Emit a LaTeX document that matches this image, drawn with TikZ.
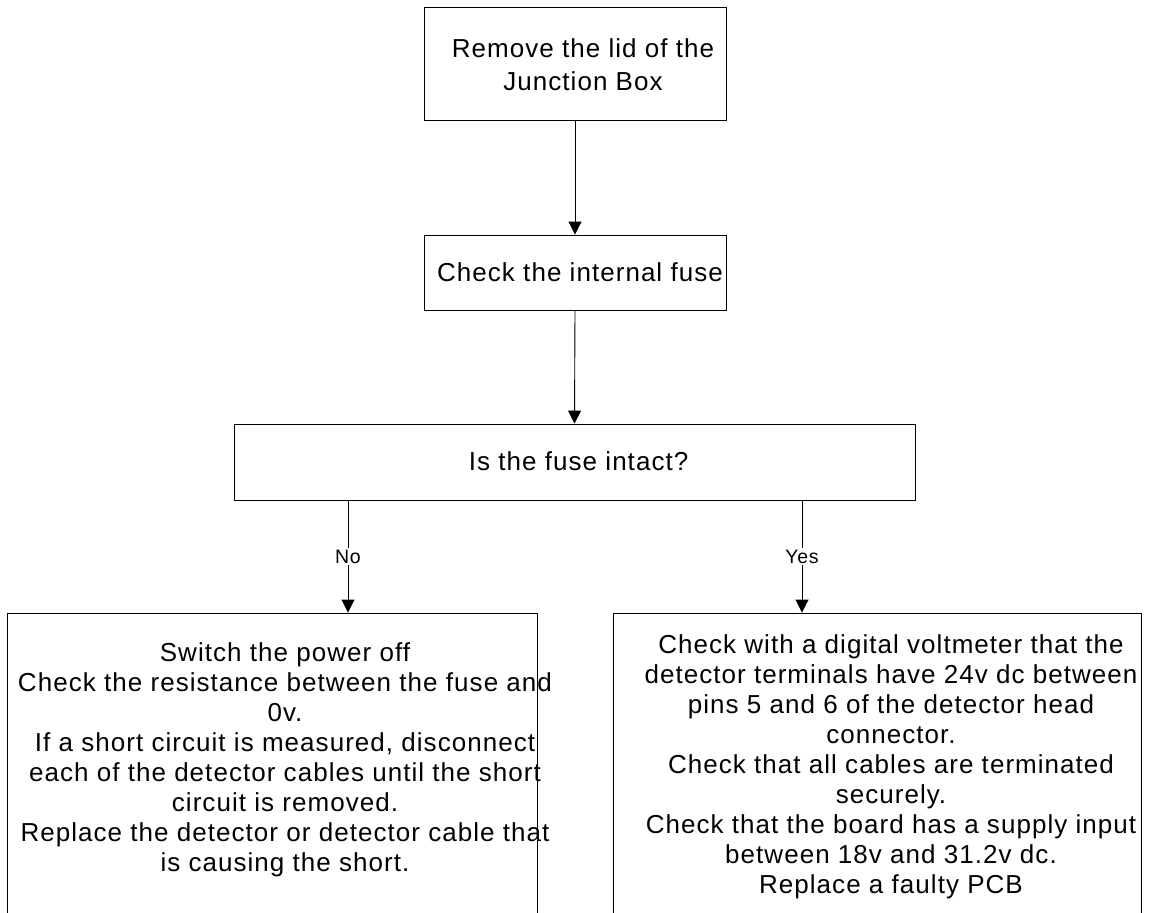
\documentclass[tikz,border=0pt]{standalone}
\usepackage{fontspec}
\setmainfont{Liberation Sans}[LetterSpace=4.0]
\usetikzlibrary{arrows.meta}
\tikzset{
  box/.style={draw, line width=0.9pt, rectangle, inner sep=0pt},
  txt/.style={align=center, inner sep=0pt, font=\fontsize{26}{30}\selectfont},
  arr/.style={draw, line width=0.9pt, -{Triangle[length=13pt,width=13pt]}},
  lbl/.style={fill=white, inner sep=2pt, font=\fontsize{19.5}{21}\selectfont}
}
\begin{document}
\begin{tikzpicture}[x=1pt,y=-1pt]
\clip (0,0) rectangle (1149,913);
\fill[white] (0,0) rectangle (1149,913);
% boxes
\node[box, minimum width=302pt, minimum height=113pt] (n1) at (575,63.5) {};
\node[box, minimum width=302pt, minimum height=75pt] (n2) at (575,272.5) {};
\node[box, minimum width=681pt, minimum height=76pt] (n3) at (574.5,462) {};
\node[box, minimum width=530pt, minimum height=327pt] (b1) at (272,776.5) {};
\node[box, minimum width=528pt, minimum height=327pt] (b2) at (877,776.5) {};
% texts
\node[txt, font=\fontsize{26}{33.3}\selectfont] (t1) at (583,64.5) {Remove the lid of the\\Junction Box};
\node[txt] (t2) at (580,272) {Check the internal fuse};
\node[txt] (t3) at (578.6,461.7) {Is the fuse intact?};
\node[txt] (tb1) at (285,760) {Switch the power off\\Check the resistance between the fuse and\\0v.\\If a short circuit is measured, disconnect\\each of the detector cables until the short\\circuit is removed.\\Replace the detector or detector cable that\\is causing the short.};
\node[txt] (tb2) at (891,767) {Check with a digital voltmeter that the\\detector terminals have 24v dc between\\pins 5 and 6 of the detector head\\connector.\\Check that all cables are terminated\\securely.\\Check that the board has a supply input\\between 18v and 31.2v dc.\\Replace a faulty PCB};
% connectors
\coordinate (noX) at (348,0);
\coordinate (yesX) at (802,0);
\draw[arr] (n1.south) -- (n2.north);
\draw[arr] (n2.south) -- (n3.north);
\draw[arr] (n3.south -| noX) -- node[lbl] (lno) {No} (b1.north -| noX);
\draw[arr] (n3.south -| yesX) -- node[lbl] (lyes) {Yes} (b2.north -| yesX);
\end{tikzpicture}
\end{document}
